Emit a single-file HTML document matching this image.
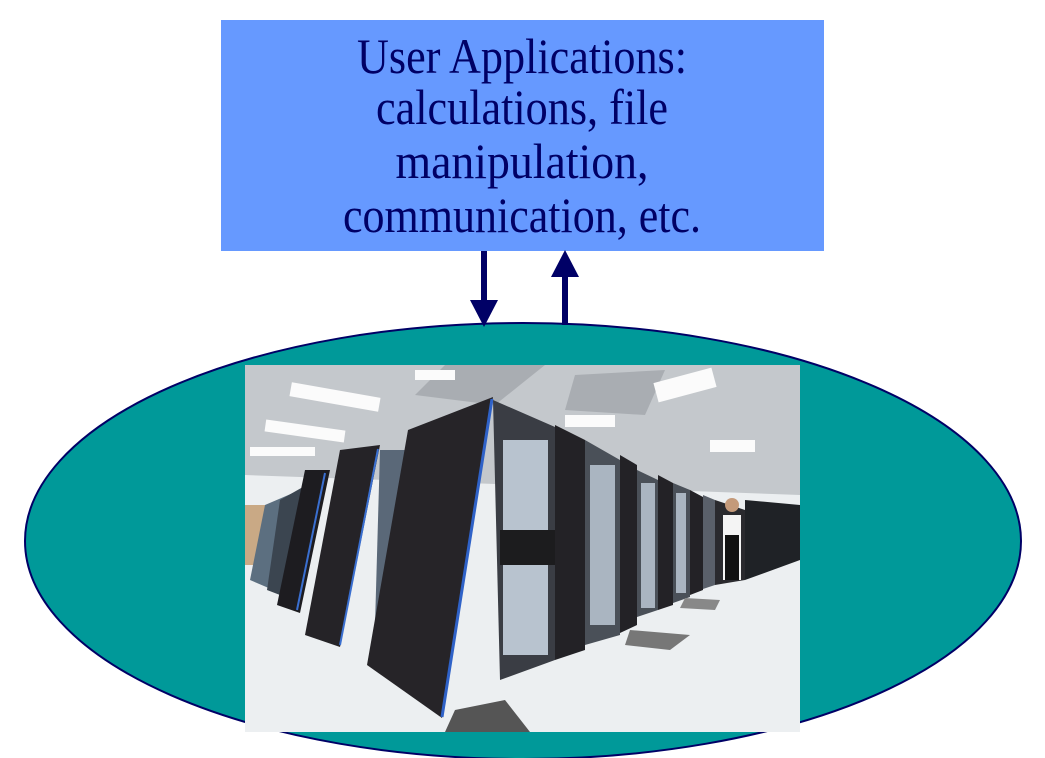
<!DOCTYPE html>
<html><head><meta charset="utf-8"><style>
html,body{margin:0;padding:0;background:#fff;}
body{width:1045px;height:758px;overflow:hidden;position:relative;}
svg{position:absolute;left:0;top:0;}
</style></head><body>
<svg width="1045" height="758" viewBox="0 0 1045 758" xmlns="http://www.w3.org/2000/svg">
<rect x="221" y="20" width="603" height="231" fill="#6699FF"/>
<g font-family="Liberation Serif, serif" font-size="50" fill="#000066" text-anchor="middle">
<text x="522" y="73" textLength="330" lengthAdjust="spacingAndGlyphs">User Applications:</text>
<text x="522" y="124" textLength="292" lengthAdjust="spacingAndGlyphs">calculations, file</text>
<text x="522" y="178" textLength="253" lengthAdjust="spacingAndGlyphs">manipulation,</text>
<text x="522" y="232" textLength="358" lengthAdjust="spacingAndGlyphs">communication, etc.</text>
</g>
<ellipse cx="523" cy="541" rx="498" ry="218" fill="#009999" stroke="#000066" stroke-width="2"/>
<rect x="481" y="251" width="6" height="52" fill="#000066"/>
<polygon points="470,300 498,300 484,327" fill="#000066"/>
<rect x="562" y="274" width="6" height="51" fill="#000066"/>
<polygon points="551,277 579,277 565,250" fill="#000066"/>
<g transform="translate(245,365)">
<rect width="555" height="367" fill="#e9ecee"/>
<rect width="555" height="150" fill="#c4c8cc"/>
<polygon points="200,0 300,0 250,40 170,30" fill="#a9adb2"/>
<polygon points="330,10 420,5 400,50 320,45" fill="#a9adb2"/>
<rect x="45" y="25" width="90" height="14" fill="#fbfbfb" transform="rotate(10 90 32)"/>
<rect x="20" y="60" width="80" height="12" fill="#fbfbfb" transform="rotate(8 60 66)"/>
<rect x="5" y="82" width="65" height="9" fill="#fbfbfb"/>
<rect x="410" y="10" width="60" height="20" fill="#fbfbfb" transform="rotate(-15 440 20)"/>
<rect x="465" y="75" width="45" height="12" fill="#fbfbfb"/>
<rect x="320" y="50" width="50" height="12" fill="#fbfbfb"/>
<rect x="170" y="5" width="40" height="10" fill="#fbfbfb"/>
<polygon points="0,110 555,130 555,367 0,367" fill="#eceff1"/>
<rect x="0" y="140" width="20" height="60" fill="#c9a985"/>
<polygon points="20,140 55,125 40,230 5,215" fill="#5c6f80"/>
<polygon points="35,135 65,118 48,235 22,225" fill="#3b4550"/>
<polygon points="60,105 85,105 55,248 32,240" fill="#1d1c20"/>
<line x1="80" y1="108" x2="52" y2="245" stroke="#3a6fd0" stroke-width="2"/>
<polygon points="95,85 135,80 95,282 60,270" fill="#252327"/>
<line x1="133" y1="84" x2="95" y2="280" stroke="#3a6fd0" stroke-width="2"/>
<polygon points="135,85 165,85 160,250 130,260" fill="#5a6878"/>
<polygon points="163,65 248,32 197,353 122,300" fill="#262428"/>
<line x1="247" y1="34" x2="197" y2="352" stroke="#2f62c8" stroke-width="3"/>
<polygon points="248,35 310,62 310,295 255,315" fill="#3a3d44"/>
<g fill="#b8c3cf">
<rect x="258" y="75" width="45" height="92"/>
<rect x="258" y="200" width="45" height="90"/>
</g>
<rect x="255" y="165" width="55" height="35" fill="#1c1c1e"/>
<polygon points="310,60 340,75 340,285 310,295" fill="#232226"/>
<polygon points="340,75 375,95 375,270 340,280" fill="#4a5058"/>
<rect x="345" y="100" width="25" height="160" fill="#aab5c1"/>
<polygon points="375,90 392,100 392,260 375,268" fill="#232226"/>
<polygon points="392,105 413,115 413,245 392,252" fill="#4a5058"/>
<rect x="396" y="118" width="14" height="125" fill="#aab5c1"/>
<polygon points="413,110 428,118 428,240 413,245" fill="#232226"/>
<polygon points="428,118 445,125 445,232 428,238" fill="#4a5058"/>
<rect x="431" y="128" width="10" height="100" fill="#aab5c1"/>
<polygon points="445,125 458,132 458,225 445,230" fill="#232226"/>
<polygon points="458,130 470,135 470,220 458,224" fill="#5a606a"/>
<polygon points="470,135 500,145 500,215 470,220" fill="#2a2a2e"/>
<polygon points="500,135 555,140 555,195 500,215" fill="#1f2226"/>
<rect x="478" y="150" width="18" height="65" fill="#f4f4f4"/>
<rect x="480" y="170" width="14" height="45" fill="#111"/>
<circle cx="487" cy="140" r="7" fill="#c49a7a"/>
<polygon points="210,345 260,335 285,367 200,367" fill="#555"/>
<polygon points="385,265 445,270 425,285 380,280" fill="#777"/>
<polygon points="440,233 475,235 470,245 435,243" fill="#888"/>
</g>
</svg>
</body></html>
